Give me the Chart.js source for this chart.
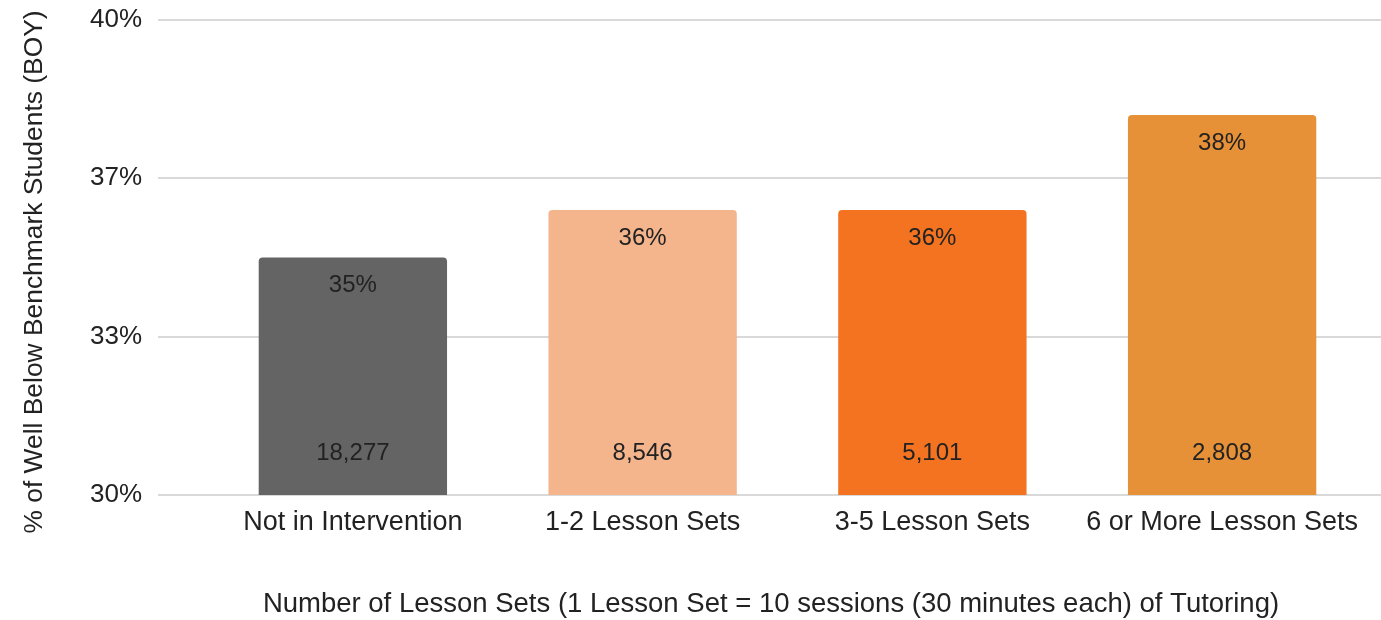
<!DOCTYPE html>
<html>
<head>
<meta charset="utf-8">
<script src="https://cdn.jsdelivr.net/npm/chart.js@4"></script>
<style>
  html, body { margin: 0; padding: 0; background: #fff; }
  #wrap { width: 1381px; height: 620px; }
</style>
</head>
<body>
<div id="wrap"><canvas id="chart"></canvas></div>
<script>
const categories = ['Not in Intervention', '1-2 Lesson Sets', '3-5 Lesson Sets', '6 or More Lesson Sets'];
const percentValues = [35, 36, 36, 38];
const studentCounts = ['18,277', '8,546', '5,101', '2,808'];
const barColors = ['#646464', '#f4b48c', '#f37321', '#e69038'];
const yTicks = [30, 33.333, 36.667, 40];
const yTitle = '% of Well Below Benchmark Students (BOY)';
const xTitle = 'Number of Lesson Sets (1 Lesson Set = 10 sessions (30 minutes each) of Tutoring)';

const FONT = '"Liberation Sans", Arial, sans-serif';
const TEXT = '#222';

// gridlines reach past the plot area on both sides, as in the original
const wideGrid = {
  id: 'wideGrid',
  beforeDatasetsDraw(chart) {
    const {ctx, scales} = chart;
    ctx.save();
    ctx.strokeStyle = '#d9d9d9';
    ctx.lineWidth = 2;
    yTicks.forEach(v => {
      const y = Math.round(scales.y.getPixelForValue(v));
      ctx.beginPath();
      ctx.moveTo(158, y);
      ctx.lineTo(chart.width, y);
      ctx.stroke();
    });
    ctx.restore();
  }
};

const barLabels = {
  id: 'barLabels',
  afterDatasetsDraw(chart) {
    const {ctx, scales} = chart;
    const meta = chart.getDatasetMeta(0);
    const base = scales.y.getPixelForValue(30);
    ctx.save();
    ctx.font = '24px ' + FONT;
    ctx.fillStyle = TEXT;
    ctx.textAlign = 'center';
    ctx.textBaseline = 'middle';
    meta.data.forEach((bar, i) => {
      ctx.fillText(Math.round(percentValues[i]) + '%', bar.x, bar.y + 28);
      ctx.fillText(studentCounts[i], bar.x, base - 42);
    });
    ctx.restore();
  }
};

// axis titles sit a little off the plot centre in the original
const axisTitles = {
  id: 'axisTitles',
  afterDraw(chart) {
    const {ctx} = chart;
    ctx.save();
    ctx.fillStyle = TEXT;
    ctx.textAlign = 'center';
    ctx.textBaseline = 'middle';
    ctx.font = '27.5px ' + FONT;
    ctx.fillText(xTitle, 771, 604);
    ctx.translate(35, 272);
    ctx.rotate(-Math.PI / 2);
    ctx.font = '26.4px ' + FONT;
    ctx.fillText(yTitle, 0, 0);
    ctx.restore();
  }
};

new Chart(document.getElementById('chart'), {
  type: 'bar',
  data: {
    labels: categories,
    datasets: [{
      data: percentValues,
      backgroundColor: barColors,
      borderRadius: {topLeft: 4, topRight: 4},
      borderSkipped: 'bottom',
      barPercentage: 0.65,
      categoryPercentage: 1
    }]
  },
  plugins: [wideGrid, barLabels, axisTitles],
  options: {
    responsive: true,
    maintainAspectRatio: false,
    animation: false,
    layout: {padding: {top: 20, right: 14, bottom: 0, left: 0}},
    plugins: {legend: {display: false}, tooltip: {enabled: false}},
    scales: {
      x: {
        grid: {display: false, drawTicks: false},
        border: {display: false},
        ticks: {color: TEXT, font: {family: FONT, size: 27}, padding: 11, maxRotation: 0},
        afterFit: s => { s.height = 125; }
      },
      y: {
        min: 30,
        max: 40,
        grid: {display: false, drawTicks: true, tickLength: 62},
        border: {display: false},
        afterBuildTicks: s => { s.ticks = yTicks.map(v => ({value: v})); },
        ticks: {
          color: TEXT,
          font: {family: FONT, size: 26},
          padding: 4,
          callback: v => Math.round(v) + '%'
        },
        afterFit: s => { s.width = 208; }
      }
    }
  }
});
</script>
</body>
</html>
